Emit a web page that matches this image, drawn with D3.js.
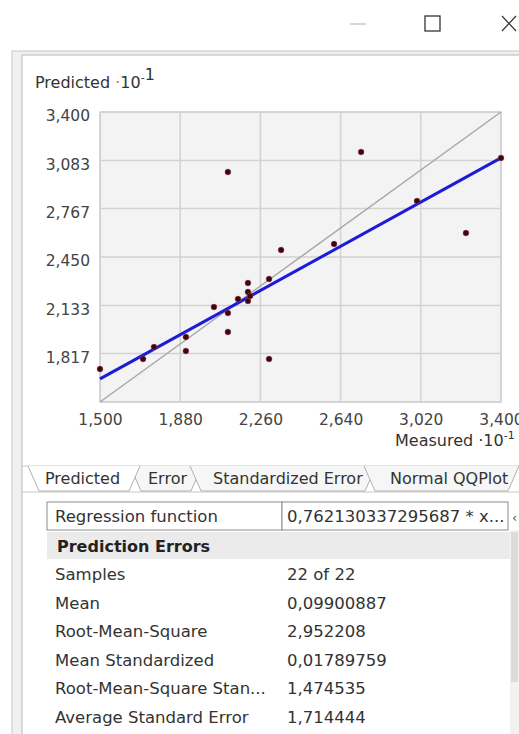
<!DOCTYPE html>
<html>
<head>
<meta charset="utf-8">
<script src="https://cdn.jsdelivr.net/npm/d3@7"></script>
<style>
  body { margin: 0; background: #fff; }
  svg { display: block; font-family: "DejaVu Sans", sans-serif; }
</style>
</head>
<body>
<svg id="chart"></svg>
<script>
// Cross validation points (measured vs predicted, x10^-1)
const measured = [1500, 1704, 1756, 1907, 1907, 2040, 2106, 2106, 2106, 2154, 2201, 2201, 2201, 2211, 2301, 2301, 2358, 2609, 2737, 3002, 3234, 3400];
const predicted = [1716, 1782, 1860, 1926, 1834, 2122, 2083, 1959, 3007, 2175, 2280, 2221, 2162, 2194, 2306, 1782, 2496, 2535, 3138, 2817, 2607, 3099];

const xTicks = [1500, 1880, 2260, 2640, 3020, 3400];
const yTicks = [1500, 1817, 2133, 2450, 2767, 3083, 3400];

const slope = 0.762130337295687;
const intercept = 508;

const tabNames = ["Predicted", "Error", "Standardized Error", "Normal QQPlot"];
const statLabels = ["Samples", "Mean", "Root-Mean-Square", "Mean Standardized", "Root-Mean-Square Stan...", "Average Standard Error"];
const statValues = ["22 of 22", "0,09900887", "2,952208", "0,01789759", "1,474535", "1,714444"];

const W = 519, H = 734;
const fmt = d3.format(",");
const data = measured.map((m, i) => ({ m, p: predicted[i] }));

const svg = d3.select("#chart").attr("width", W).attr("height", H);

// window chrome
svg.append("line").attr("x1", 350).attr("x2", 366).attr("y1", 24).attr("y2", 24)
  .attr("stroke", "#bbb").attr("stroke-width", 1.2);
svg.append("rect").attr("x", 425).attr("y", 16).attr("width", 15).attr("height", 15)
  .attr("fill", "none").attr("stroke", "#333").attr("stroke-width", 1.3);
svg.append("path").attr("d", "M502,16L516,31M516,16L502,31")
  .attr("stroke", "#333").attr("stroke-width", 1.2);

svg.append("rect").attr("x", 12).attr("y", 51).attr("width", W).attr("height", H)
  .attr("fill", "#f0f0f0").attr("stroke", "#c8c8c8");
svg.append("rect").attr("x", 22).attr("y", 55).attr("width", W).attr("height", H)
  .attr("fill", "#fff").attr("stroke", "#b8b8b8");

// Scales
const plot = { left: 100, top: 112, width: 401, height: 290 };
const x = d3.scaleLinear().domain([1500, 3400]).range([plot.left, plot.left + plot.width]);
const y = d3.scaleLinear().domain([1500, 3400]).range([plot.top + plot.height, plot.top]);

const g = svg.append("g");
g.append("rect").attr("x", plot.left).attr("y", plot.top)
  .attr("width", plot.width).attr("height", plot.height)
  .attr("fill", "#f3f3f3").attr("stroke", "#bdbdbd");

// grid
g.selectAll(".vgrid").data(xTicks).join("line")
  .attr("x1", d => x(d)).attr("x2", d => x(d))
  .attr("y1", plot.top).attr("y2", plot.top + plot.height)
  .attr("stroke", "#d2d2d2").attr("stroke-width", 1.5);
g.selectAll(".hgrid").data(yTicks).join("line")
  .attr("x1", plot.left).attr("x2", plot.left + plot.width)
  .attr("y1", d => y(d)).attr("y2", d => y(d))
  .attr("stroke", "#d2d2d2").attr("stroke-width", 1.5);

// axes (labels only)
const xAxis = d3.axisBottom(x).tickValues(xTicks).tickFormat(fmt).tickSize(0).tickPadding(12);
g.append("g").attr("transform", `translate(0,${plot.top + plot.height})`).call(xAxis)
  .call(a => a.select(".domain").remove())
  .call(a => a.selectAll("text").attr("font-size", 15.5).attr("fill", "#444").attr("font-family", "DejaVu Sans"));

const yAxis = d3.axisLeft(y).tickValues(yTicks.slice(1)).tickFormat(fmt).tickSize(0).tickPadding(10);
g.append("g").attr("transform", `translate(${plot.left},4)`).call(yAxis)
  .call(a => a.select(".domain").remove())
  .call(a => a.selectAll("text").attr("font-size", 15.5).attr("fill", "#444").attr("font-family", "DejaVu Sans"));

// reference 1:1 line
g.append("line")
  .attr("x1", x(1500)).attr("y1", y(1500)).attr("x2", x(3400)).attr("y2", y(3400))
  .attr("stroke", "#a8a8a8").attr("stroke-width", 1.5);

// regression line
const line = d3.line().x(d => x(d)).y(d => y(slope * d + intercept));
g.append("path").datum([1500, 3400]).attr("d", line)
  .attr("fill", "none").attr("stroke", "#1c1cd8").attr("stroke-width", 3);

// points
g.selectAll(".pt").data(data).join("circle")
  .attr("cx", d => x(d.m)).attr("cy", d => y(d.p)).attr("r", 3)
  .attr("fill", "#3b0712").attr("stroke", "#d06070").attr("stroke-opacity", 0.4).attr("stroke-width", 1);

// axis titles
const yTitle = svg.append("text").attr("x", 35).attr("y", 88).attr("font-size", 16).attr("fill", "#333");
yTitle.append("tspan").text("Predicted ");
yTitle.append("tspan").attr("fill", "#b07060").text("·");
yTitle.append("tspan").text("10");
yTitle.append("tspan").attr("dy", -7).attr("font-size", 11).text("-");
yTitle.append("tspan").attr("font-size", 16).attr("dy", -1).text("1");

const xTitle = svg.append("text").attr("x", 395).attr("y", 446).attr("font-size", 16).attr("fill", "#333");
xTitle.append("tspan").text("Measured ·10");
xTitle.append("tspan").attr("dy", -7).attr("font-size", 11).text("-1");

// tabs: trapezoids hanging below the chart panel, selected one on top
const tabL = [28, 130, 190, 364];
const tabR = [140, 202, 376, 519];
const tabTextX = [45, 148, 213, 390];
const tabs = svg.append("g");
tabs.append("line").attr("x1", 22).attr("x2", W).attr("y1", 466).attr("y2", 466).attr("stroke", "#c8c8c8");
tabs.append("line").attr("x1", 22).attr("x2", W).attr("y1", 492).attr("y2", 492).attr("stroke", "#c8c8c8");
[1, 2, 3, 0].forEach(i => {
  tabs.append("path")
    .attr("d", `M${tabL[i]},466L${tabL[i] + 11},491L${tabR[i] - 11},491L${tabR[i]},466`)
    .attr("fill", i === 0 ? "#fff" : "#f6f6f6").attr("stroke", "#b0b0b0");
  tabs.append("text").attr("x", tabTextX[i]).attr("y", 484)
    .attr("font-size", 16).attr("fill", "#333").text(tabNames[i]);
});

// statistics table
const tbl = svg.append("g");
tbl.append("rect").attr("x", 47).attr("y", 502).attr("width", 235).attr("height", 28)
  .attr("fill", "#fff").attr("stroke", "#8c8c8c");
tbl.append("rect").attr("x", 282).attr("y", 502).attr("width", 226).attr("height", 28)
  .attr("fill", "#fff").attr("stroke", "#8c8c8c");
tbl.append("text").attr("x", 55).attr("y", 522).attr("font-size", 16.5).attr("fill", "#333").text("Regression function");
tbl.append("text").attr("x", 287).attr("y", 522).attr("font-size", 16.5).attr("fill", "#333").text("0,762130337295687 * x...");
tbl.append("rect").attr("x", 47).attr("y", 532).attr("width", 463).attr("height", 27).attr("fill", "#ebebeb");
tbl.append("text").attr("x", 57).attr("y", 552).attr("font-size", 16).attr("font-weight", "bold").attr("fill", "#222").text("Prediction Errors");

tbl.selectAll(".lab").data(statLabels).join("text")
  .attr("x", 55).attr("y", (d, i) => 580 + i * 28.5)
  .attr("font-size", 16.5).attr("fill", "#333").text(d => d);
tbl.selectAll(".val").data(statValues).join("text")
  .attr("x", 287).attr("y", (d, i) => 580 + i * 28.5)
  .attr("font-size", 16.5).attr("fill", "#333").text(d => d);

// scrollbar
svg.append("rect").attr("x", 510).attr("y", 530).attr("width", 9).attr("height", H)
  .attr("fill", "#f2f2f2");
svg.append("rect").attr("x", 511).attr("y", 532).attr("width", 7).attr("height", 150)
  .attr("fill", "#dcdcdc");
svg.append("text").attr("x", 512).attr("y", 522).attr("font-size", 13).attr("fill", "#555").text("‹");
</script>
</body>
</html>
